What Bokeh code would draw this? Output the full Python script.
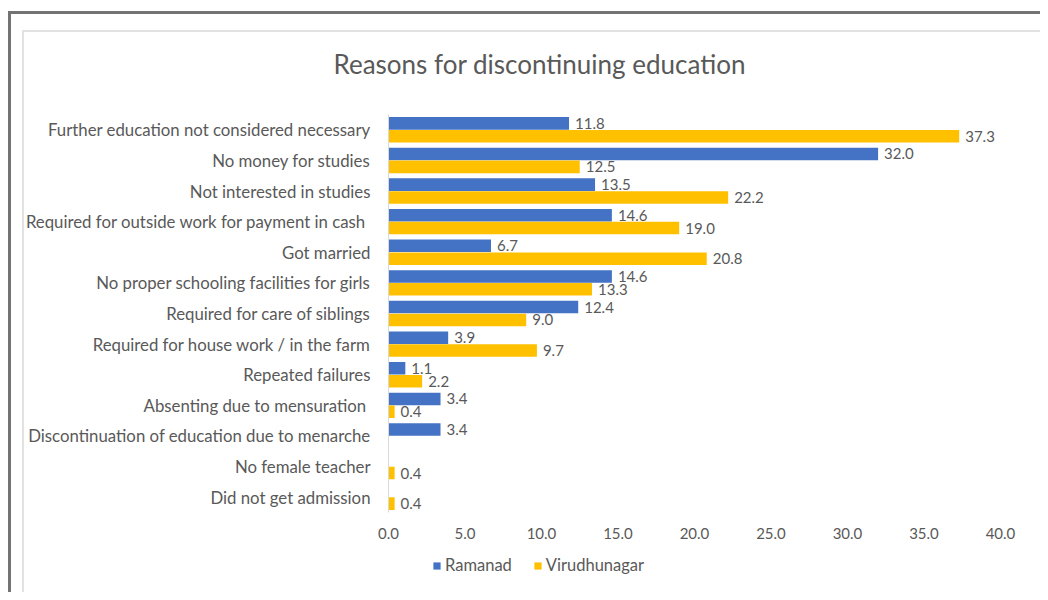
from bokeh.plotting import figure
from bokeh.layouts import column
from bokeh.models import (ColumnDataSource, FactorRange, FixedTicker, PrintfTickFormatter,
                          Legend, LegendItem)
from bokeh.transform import dodge
from bokeh.core.properties import value
from bokeh.embed import file_html
from bokeh.resources import INLINE

categories = [
    "Further education not considered necessary",
    "No money for studies",
    "Not interested in studies",
    "Required for outside work for payment in cash ",
    "Got married",
    "No proper schooling facilities for girls",
    "Required for care of siblings",
    "Required for house work / in the farm",
    "Repeated failures",
    "Absenting due to mensuration ",
    "Discontinuation of education due to menarche",
    "No female teacher",
    "Did not get admission",
]
ramanad = [11.8, 32.0, 13.5, 14.6, 6.7, 14.6, 12.4, 3.9, 1.1, 3.4, 3.4, None, None]
virudhunagar = [37.3, 12.5, 22.2, 19.0, 20.8, 13.3, 9.0, 9.7, 2.2, 0.4, None, 0.4, 0.4]
series_names = ["Ramanad", "Virudhunagar"]
x_ticks = [0, 5, 10, 15, 20, 25, 30, 35, 40]
title_text = "Reasons for discontinuing education"

BLUE = "#4472C4"
YELLOW = "#FFC000"
GRAY = "#595959"
FONT = "Lato"

def nz(v):
    return float("nan") if v is None else v

bar_src = ColumnDataSource(dict(
    cat=categories,
    r=[nz(v) for v in ramanad],
    v=[nz(v) for v in virudhunagar],
))
r_lab = ColumnDataSource(dict(
    cat=[c for c, v in zip(categories, ramanad) if v is not None],
    val=[v for v in ramanad if v is not None],
    txt=[f"{v:.1f}" for v in ramanad if v is not None],
))
v_lab = ColumnDataSource(dict(
    cat=[c for c, v in zip(categories, virudhunagar) if v is not None],
    val=[v for v in virudhunagar if v is not None],
    txt=[f"{v:.1f}" for v in virudhunagar if v is not None],
))

fig = figure(
    width=1040, height=550,
    y_range=FactorRange(factors=list(reversed(categories))),
    x_range=(0, 40),
    output_backend="svg", toolbar_location=None,
    min_border_left=388, min_border_right=40, min_border_top=114, min_border_bottom=38,
)
fig.outline_line_color = None
fig.background_fill_color = None
fig.border_fill_color = None
fig.xgrid.visible = False
fig.ygrid.visible = False

off = 0.21
h = 0.41
fig.hbar(y=dodge("cat", off, range=fig.y_range), right="r", left=0, height=h,
         source=bar_src, fill_color=BLUE, line_color=None)
fig.hbar(y=dodge("cat", -off, range=fig.y_range), right="v", left=0, height=h,
         source=bar_src, fill_color=YELLOW, line_color=None)

fig.text(x="val", y=dodge("cat", off, range=fig.y_range), text="txt", source=r_lab,
         x_offset=6, text_align="left", text_baseline="middle",
         text_font=value(FONT), text_font_size="15px", text_color=GRAY)
fig.text(x="val", y=dodge("cat", -off, range=fig.y_range), text="txt", source=v_lab,
         x_offset=6, text_align="left", text_baseline="middle",
         text_font=value(FONT), text_font_size="15px", text_color=GRAY)

# axes
fig.xaxis.ticker = FixedTicker(ticks=x_ticks)
fig.xaxis.formatter = PrintfTickFormatter(format="%.1f")
fig.xaxis.axis_line_color = None
fig.xaxis.major_tick_line_color = None
fig.xaxis.minor_tick_line_color = None
fig.xaxis.major_tick_out = 0
fig.xaxis.major_label_standoff = 15
fig.xaxis.major_label_text_font = FONT
fig.xaxis.major_label_text_font_size = "15px"
fig.xaxis.major_label_text_color = GRAY

fig.yaxis.axis_line_color = "#d9d9d9"
fig.yaxis.major_tick_line_color = None
fig.yaxis.minor_tick_line_color = None
fig.yaxis.major_tick_out = 0
fig.yaxis.major_label_standoff = 18
fig.yaxis.major_label_text_font = FONT
fig.yaxis.major_label_text_font_size = "16.8px"
fig.yaxis.major_label_text_color = GRAY

fig.title.text = title_text
fig.title.align = "left"
fig.title.offset = -55
fig.title.standoff = 70
fig.title.text_font = FONT
fig.title.text_font_size = "26px"
fig.title.text_font_style = "normal"
fig.title.text_color = GRAY

# legend strip below the chart (its frame is aligned with the chart frame)
lf = figure(width=1040, height=42, x_range=(0, 1), y_range=(0, 1),
            output_backend="svg", toolbar_location=None,
            x_axis_type=None, y_axis_type=None, min_border=0)
lf.outline_line_color = None
lf.background_fill_color = None
lf.border_fill_color = None
lf.grid.visible = False
# swatch renderers for the legend: zero-width bars, so nothing shows in the strip
lr = lf.hbar(y=[0.5], right=[0], left=[0], height=0.5, fill_color=BLUE, line_color=None)
lv = lf.hbar(y=[0.5], right=[0], left=[0], height=0.5, fill_color=YELLOW, line_color=None)
legend = Legend(items=[LegendItem(label=series_names[0], renderers=[lr]),
                       LegendItem(label=series_names[1], renderers=[lv])],
                orientation="horizontal", location=(44, 17),
                margin=0, padding=0,
                glyph_width=9, glyph_height=9, spacing=21, label_standoff=4,
                label_text_font=FONT, label_text_font_size="16.5px",
                label_text_color=GRAY, border_line_color=None,
                background_fill_alpha=0)
lf.add_layout(legend, "center")

p = column(fig, lf, spacing=0, styles={
    "background": (
        "linear-gradient(#737373,#737373) 8px 11px / 3px 100% no-repeat, "
        "linear-gradient(#737373,#737373) 8px 11px / 100% 3px no-repeat, "
        "linear-gradient(#e2e2e2,#e2e2e2) 22px 30px / 2px 562px no-repeat, "
        "linear-gradient(#e2e2e2,#e2e2e2) 22px 30px / 100% 2px no-repeat, "
        "#ffffff"
    )
})

open("out.html", "w").write(file_html(p, INLINE))
